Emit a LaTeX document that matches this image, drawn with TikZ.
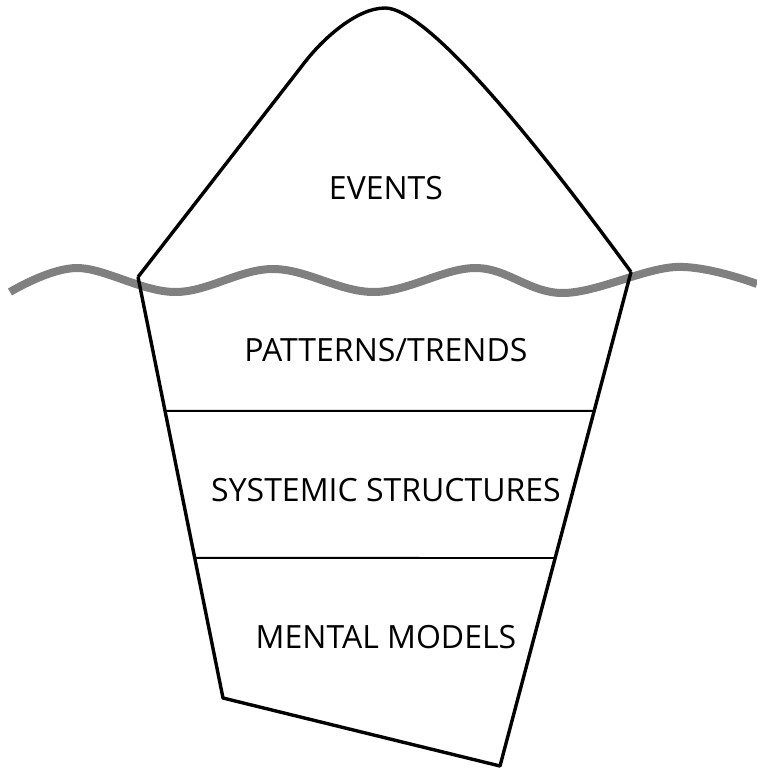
\documentclass[tikz,border=0pt]{standalone}
\usepackage{fontspec}
\setmainfont{Open Sans}
\usetikzlibrary{calc}

\begin{document}
\begin{tikzpicture}[x=1pt,y=-1pt,
    berg/.style={black,line width=3.4pt,line join=round},
    layer/.style={black,line width=1.9pt},
    water/.style={gray,line width=8pt},
    label/.style={font=\fontsize{32}{36}\selectfont,inner sep=0pt}]
  \useasboundingbox (0,0) rectangle (756,771);
  % corners of the iceberg
  \coordinate (wl) at (138,277);
  \coordinate (wr) at (631,272);
  \coordinate (bl) at (223,698);
  \coordinate (br) at (500,766);
  \coordinate (top) at (385,8);
  \coordinate (tl) at (305,62);
  % water line
  \draw [water] plot [smooth,tension=0.6] coordinates {(10,292) (77,268) (175,292) (273,269) (374,292) (476,268) (563,293) (676,267) (757,284)};
  % tip above water
  \draw [berg] (wl) -- (tl) .. controls (322,40) and (356,8) .. (top)
               .. controls (424,8) and (520,120) .. (wr);
  % body below water
  \draw [berg] (wl) -- (bl) -- (br) -- (wr);
  \draw [layer] ($(wl)!0.318!(bl)$) -- ($(wr)!0.281!(br)$);
  \draw [layer] ($(wl)!0.667!(bl)$) -- ($(wr)!0.579!(br)$);
  % levels
  \node [label] (events) at (386,188) {EVENTS};
  \node [label] (patterns) at (386,350) {PATTERNS/TRENDS};
  \node [label] (structures) at (386,490) {SYSTEMIC STRUCTURES};
  \node [label] (models) at (386,637) {MENTAL MODELS};
\end{tikzpicture}
\end{document}
